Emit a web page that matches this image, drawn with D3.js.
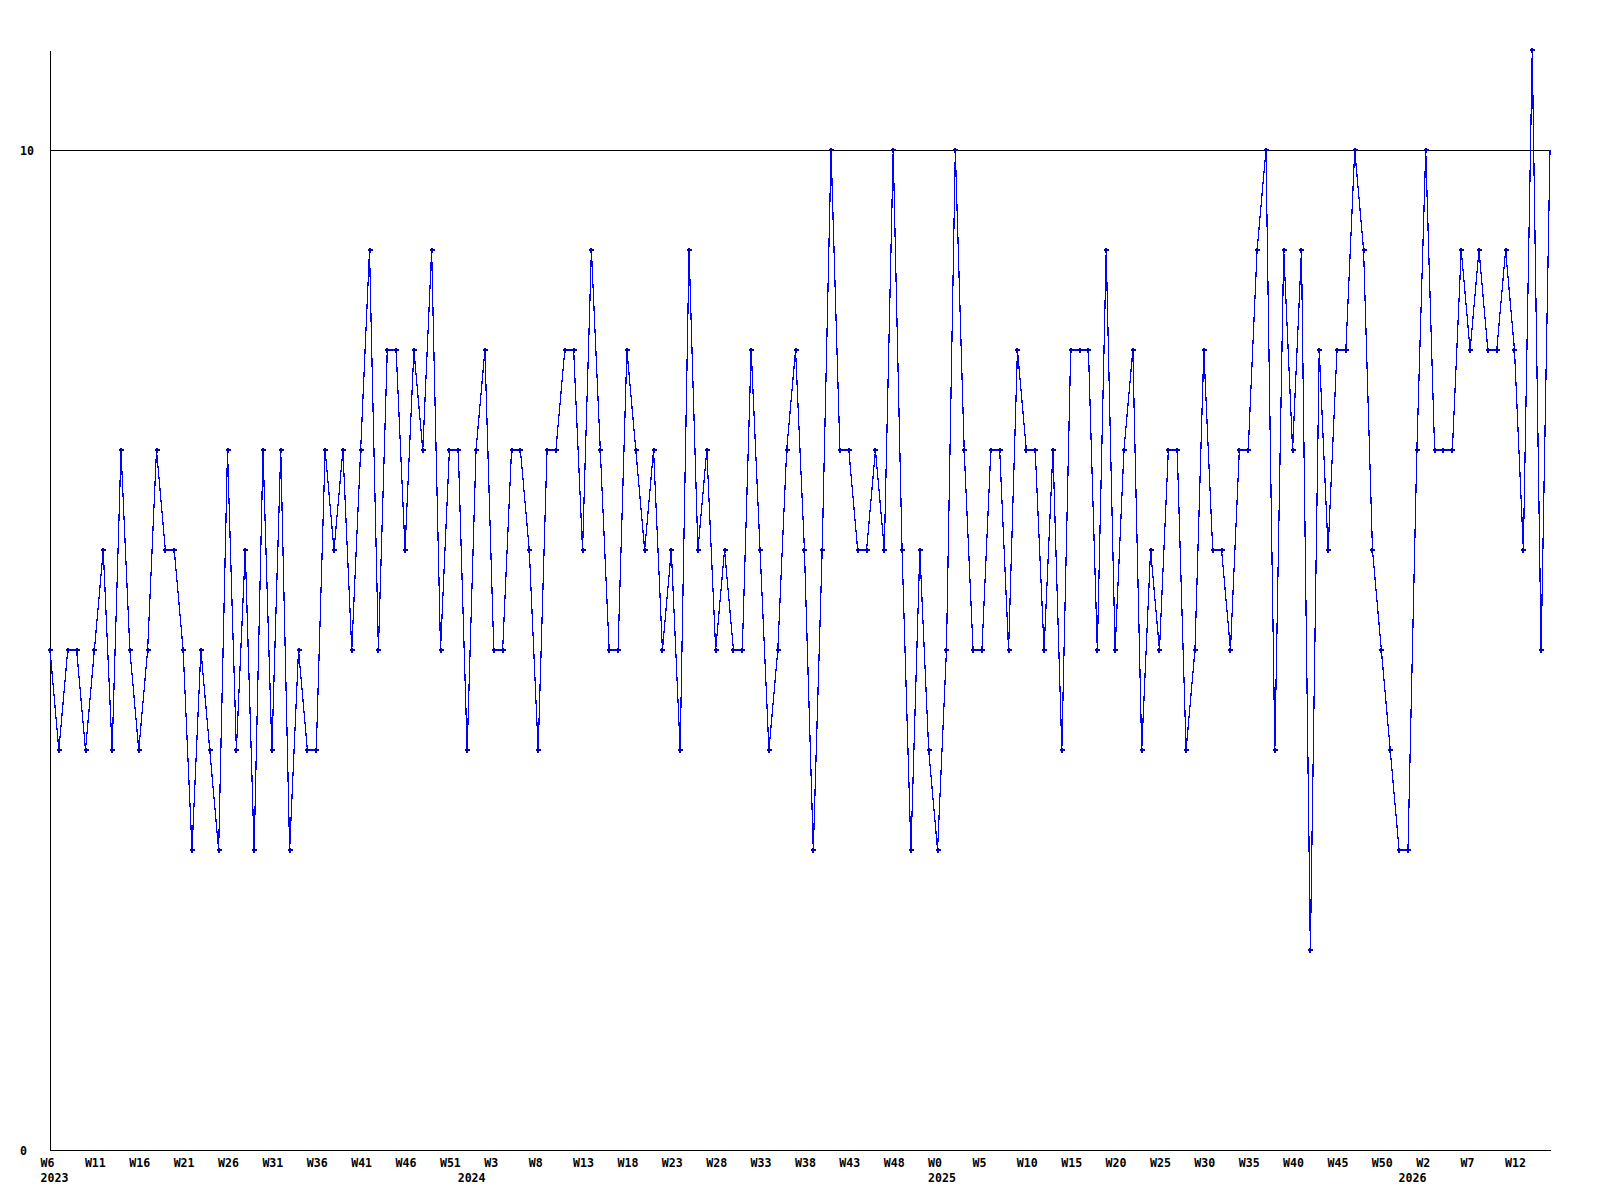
<!DOCTYPE html>
<html><head><meta charset="utf-8">
<script src="https://cdn.jsdelivr.net/npm/d3@7"></script>
<style>
html,body{margin:0;padding:0;background:#fff;}
svg{display:block;}
text{font-family:"DejaVu Sans Mono","Liberation Mono",monospace;font-weight:bold;font-size:11.6px;fill:#000;}
</style></head><body>
<svg id="chart" width="1600" height="1200"></svg>
<script>
// weekly values, 2023 W6 .. 2026
const values = [
  5,4,5,5,4,5,6,4,7,5,4,5,7,6,6,5,3,5,4,3,7,4,6,3,7,4,7,3,5,
  4,4,7,6,7,5,7,9,5,8,8,6,8,7,9,5,7,7,4,7,8,5,5,7,7,6,4,7,
  7,8,8,6,9,7,5,5,8,7,6,7,5,6,4,9,6,7,5,6,5,5,8,6,4,5,7,8,
  6,3,6,10,7,7,6,6,7,6,10,6,3,6,4,3,5,10,7,5,5,7,7,5,8,7,7,5,
  7,4,8,8,8,5,9,5,7,8,4,6,5,7,7,4,5,8,6,6,5,7,7,9,10,4,9,7,9,
  2,8,6,8,8,10,9,6,5,4,3,3,7,10,7,7,7,9,8,9,8,8,9,8,6,11,5,10
];
// a week label every 5th point
const weekTickLabels = ["W6","W11","W16","W21","W26","W31","W36","W41","W46","W51",
  "W3","W8","W13","W18","W23","W28","W33","W38","W43","W48",
  "W0","W5","W10","W15","W20","W25","W30","W35","W40","W45",
  "W50","W2","W7","W12"];
const weekTickStep = 5;
const yearLabels = ["2023","2024","2025","2026"];
const yearStartIndex = [0,47,100,153];
const yTickValues = [0,10];
const yMax = 11;

const svg = d3.select("#chart");
const n = values.length;
const x = d3.scaleLinear().domain([0, n - 1]).range([50, 1550]);
const y = d3.scaleLinear().domain([0, yMax]).range([1150, 50]);

// reference line at 10
svg.append("line")
  .attr("x1", x(0)).attr("x2", x(n - 1))
  .attr("y1", y(10) + 0.5).attr("y2", y(10) + 0.5)
  .attr("stroke", "#000").attr("stroke-width", 1)
  .attr("shape-rendering", "crispEdges");

// left axis
const yAxis = svg.append("g").attr("transform", `translate(${x(0)},0)`)
  .call(d3.axisLeft(y).tickValues(yTickValues).tickSize(0).tickSizeOuter(0).tickFormat(d3.format("d")));
yAxis.select(".domain").attr("stroke", "#000").attr("shape-rendering", "crispEdges");
yAxis.selectAll("text").attr("text-anchor", "start").attr("x", -30).attr("dy", "0.35em")
  .attr("font-family", null).attr("font-size", null);

// bottom axis (weeks)
const weekIdx = weekTickLabels.map((d, i) => i * weekTickStep);
const xAxis = svg.append("g").attr("transform", `translate(0,${y(0)})`)
  .call(d3.axisBottom(x).tickValues(weekIdx).tickSize(0).tickSizeOuter(0)
    .tickFormat((d, i) => weekTickLabels[i]));
xAxis.select(".domain").attr("stroke", "#000").attr("shape-rendering", "crispEdges");
xAxis.selectAll("text").attr("text-anchor", "start").attr("x", -10).attr("y", 16.5).attr("dy", null)
  .attr("font-family", null).attr("font-size", null);

// year labels
const yrAxis = svg.append("g").attr("transform", `translate(0,${y(0)})`)
  .call(d3.axisBottom(x).tickValues(yearStartIndex).tickSize(0)
    .tickFormat((d, i) => yearLabels[i]));
yrAxis.select(".domain").remove();
yrAxis.selectAll("text").attr("text-anchor", "start").attr("x", -10).attr("y", 32).attr("dy", null)
  .attr("font-family", null).attr("font-size", null);

// data line
const line = d3.line().x((d, i) => x(i)).y(d => y(d));
svg.append("path").datum(values)
  .attr("d", line)
  .attr("fill", "none").attr("stroke", "#0000ff").attr("stroke-width", 1.2)
  .attr("shape-rendering", "crispEdges");

// point markers
const mk = svg.append("g").attr("fill", "#0000b4").attr("shape-rendering", "crispEdges");
const pts = values.slice(0, n - 1);
mk.selectAll("rect.h").data(pts).join("rect").attr("class", "h")
  .attr("x", (d, i) => Math.round(x(i)) - 2).attr("y", d => Math.round(y(d)) - 1)
  .attr("width", 5).attr("height", 2);
mk.selectAll("rect.v").data(pts).join("rect").attr("class", "v")
  .attr("x", (d, i) => Math.round(x(i)) - 1).attr("y", d => Math.round(y(d)) - 2)
  .attr("width", 2).attr("height", 5);
</script>
</body></html>
